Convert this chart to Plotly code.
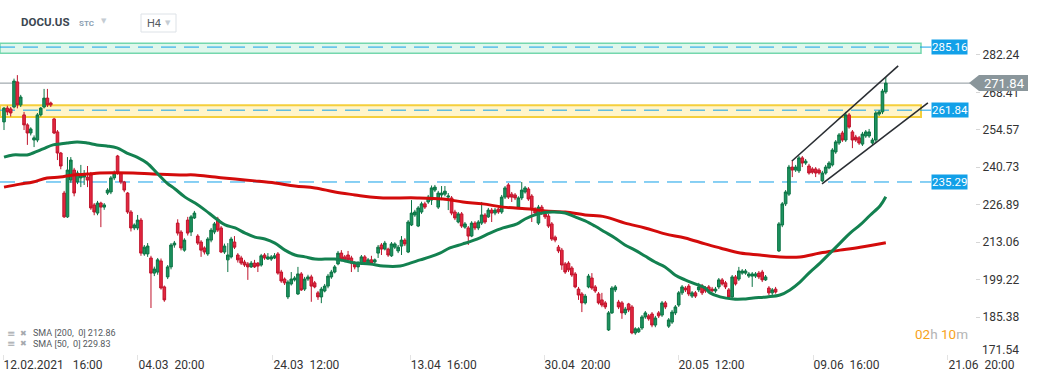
import plotly.graph_objects as go

# ---------------- data ----------------
opens = [
    257.5, 262.6, 262.3, 263.0, 272.3, 263.8, 260.1, 256.4, 253.4, 250.8,
    250.8, 260.1, 263.0, 266.3, 264.5, 258.6, 253.8, 246.0, 231.2, 222.4,
    236.0, 239.7, 235.3, 236.8, 237.1, 237.1, 237.9, 226.8, 223.8, 227.5,
    226.0, 231.2, 231.6, 236.8, 244.9, 238.6, 235.3, 231.2, 224.2, 218.3,
    218.3, 221.2, 208.7, 208.7, 207.2, 201.6, 202.0, 206.1, 196.5, 200.2,
    203.9, 212.0, 220.1, 216.8, 210.1, 221.2, 216.8, 222.0, 215.3, 213.1,
    210.9, 208.7, 213.8, 216.8, 221.6, 218.3, 209.4, 206.5, 207.6, 213.1,
    208.3, 207.2, 205.7, 205.0, 203.9, 205.3, 205.3, 204.6, 208.3, 206.8,
    206.8, 207.2, 208.7, 202.0, 199.4, 192.8, 197.6, 199.1, 193.9, 201.3,
    195.7, 199.4, 200.2, 198.0, 194.3, 192.8, 195.0, 196.8, 200.2, 202.0,
    205.0, 209.0, 207.6, 208.3, 207.2, 205.3, 203.9, 205.3, 207.6, 205.3,
    206.5, 205.7, 209.0, 212.0, 210.5, 210.5, 208.0, 211.2, 209.8, 211.6,
    213.8, 209.4, 219.4, 223.1, 219.0, 224.2, 227.2, 227.9, 228.6, 232.3,
    226.0, 230.5, 230.8, 229.7, 229.4, 224.2, 220.5, 223.5, 218.6, 218.3,
    215.3, 220.1, 218.3, 220.1, 223.1, 222.4, 224.9, 223.8, 225.3, 224.2,
    229.7, 234.2, 230.8, 230.5, 226.0, 229.4, 231.6, 232.7, 230.1, 225.3,
    220.1, 226.0, 223.5, 222.7, 219.8, 214.9, 211.2, 210.1, 205.0, 205.3,
    203.5, 201.3, 195.7, 193.9, 190.6, 196.5, 199.8, 196.5, 193.9, 191.7,
    190.6, 180.6, 186.9, 195.4, 190.9, 190.6, 186.9, 190.2, 189.1, 179.5,
    179.9, 181.3, 185.4, 185.8, 186.5, 182.4, 186.9, 186.1, 190.6, 182.0,
    183.5, 186.9, 189.8, 194.3, 196.1, 196.8, 193.1, 194.3, 195.4, 196.8,
    196.1, 196.5, 195.7, 195.0, 196.5, 199.1, 198.0, 195.4, 192.8, 200.2,
    199.4, 201.6, 201.6, 200.5, 200.5, 200.5, 201.6, 202.0, 199.1, 196.1,
    194.3, 195.7, 209.8, 219.4, 227.2, 230.8, 240.8, 239.7, 239.4, 244.2,
    242.3, 241.2, 240.1, 240.1, 239.7, 235.7, 238.6, 240.5, 241.6, 246.4,
    249.7, 253.4, 250.8, 260.1, 253.8, 251.9, 251.6, 249.3, 252.3, 252.3,
    249.7, 250.8, 260.4, 261.2, 268.6,
]
highs = [
    263.0, 263.5, 263.0, 273.5, 274.8, 267.5, 261.2, 257.0, 255.5, 252.5,
    260.8, 263.0, 269.7, 269.7, 265.0, 259.0, 254.5, 246.4, 232.0, 244.5,
    244.5, 240.5, 239.5, 241.6, 239.7, 241.2, 239.0, 227.5, 228.3, 228.0,
    227.5, 233.0, 237.5, 239.5, 245.3, 239.0, 235.7, 231.6, 224.9, 220.0,
    223.1, 222.0, 212.0, 212.7, 208.0, 204.0, 207.2, 207.0, 197.0, 204.6,
    212.7, 213.5, 221.5, 217.5, 214.5, 222.4, 223.1, 224.6, 216.0, 213.8,
    211.5, 214.9, 218.3, 220.5, 222.4, 219.0, 212.5, 212.7, 215.0, 215.3,
    209.0, 208.0, 206.5, 205.7, 206.1, 206.5, 205.7, 208.7, 209.0, 209.0,
    208.3, 209.0, 209.4, 202.8, 200.0, 199.0, 202.0, 200.5, 203.9, 202.0,
    200.2, 201.0, 201.0, 198.7, 195.0, 196.5, 197.6, 201.3, 202.8, 204.6,
    209.8, 210.1, 208.3, 209.8, 208.0, 206.0, 206.0, 208.3, 208.3, 207.2,
    208.0, 207.0, 212.0, 212.7, 213.5, 211.0, 213.1, 213.0, 212.0, 215.3,
    214.5, 221.2, 228.6, 225.0, 226.4, 228.0, 228.0, 230.5, 234.0, 234.2,
    232.0, 233.8, 233.8, 231.2, 230.1, 225.0, 224.2, 224.2, 220.5, 219.0,
    220.8, 220.8, 221.2, 227.9, 223.8, 225.7, 225.7, 225.7, 226.0, 230.5,
    233.8, 234.9, 231.6, 231.2, 230.0, 235.3, 233.8, 233.4, 230.8, 226.0,
    226.8, 226.8, 224.2, 223.5, 220.5, 215.5, 212.0, 210.9, 205.7, 206.0,
    204.2, 202.0, 196.5, 194.6, 193.9, 201.3, 201.6, 197.2, 194.6, 194.3,
    191.3, 187.6, 196.8, 197.2, 191.7, 191.3, 189.1, 190.6, 189.8, 181.6,
    181.6, 186.1, 187.6, 186.5, 187.2, 185.8, 187.6, 191.3, 191.3, 185.0,
    188.0, 189.8, 195.0, 197.2, 196.8, 197.6, 195.0, 195.0, 198.0, 197.6,
    196.8, 197.2, 196.5, 196.5, 199.8, 199.8, 198.7, 196.1, 200.9, 200.9,
    203.9, 203.1, 203.1, 202.0, 202.0, 202.0, 202.4, 202.8, 200.9, 196.8,
    196.1, 196.5, 220.5, 227.9, 232.3, 241.6, 243.4, 241.6, 244.9, 244.9,
    243.8, 242.0, 240.8, 240.8, 240.4, 239.4, 241.6, 243.0, 247.8, 250.8,
    253.4, 254.2, 261.2, 260.8, 254.5, 252.7, 252.3, 253.8, 254.5, 254.9,
    251.6, 261.5, 261.9, 269.7, 274.1,
]
lows = [
    254.5, 260.0, 259.5, 262.5, 262.5, 263.0, 254.5, 249.0, 252.5, 248.2,
    250.0, 259.5, 262.5, 263.0, 263.0, 253.0, 243.4, 240.0, 222.0, 222.0,
    235.0, 230.0, 234.5, 233.4, 234.2, 233.4, 225.0, 223.0, 223.0, 218.6,
    225.0, 230.5, 230.8, 236.0, 238.0, 234.5, 231.5, 223.5, 217.0, 217.5,
    217.5, 208.0, 208.0, 207.6, 188.7, 200.5, 201.0, 195.5, 191.0, 199.4,
    203.0, 211.0, 215.5, 210.0, 209.5, 215.5, 215.3, 221.6, 212.0, 207.6,
    208.5, 208.0, 213.0, 216.0, 216.8, 209.0, 208.7, 202.0, 207.0, 210.5,
    205.5, 204.6, 203.9, 199.1, 203.5, 203.5, 202.0, 204.0, 206.5, 206.5,
    206.1, 206.8, 201.0, 198.0, 197.2, 192.0, 197.0, 198.5, 193.5, 195.0,
    195.0, 198.7, 191.0, 196.0, 191.7, 190.5, 194.5, 196.0, 199.5, 201.5,
    204.5, 206.0, 205.7, 206.0, 202.0, 203.0, 202.0, 204.6, 205.0, 204.6,
    204.6, 205.0, 207.2, 208.3, 210.0, 207.6, 207.6, 210.5, 209.0, 208.3,
    211.6, 209.0, 219.0, 222.4, 218.6, 223.5, 225.3, 227.2, 226.8, 231.6,
    225.3, 228.6, 230.0, 224.9, 223.0, 221.2, 220.0, 218.3, 218.0, 212.0,
    214.9, 217.5, 217.5, 219.4, 219.8, 222.0, 220.5, 223.0, 223.5, 223.5,
    229.0, 229.0, 227.9, 228.6, 225.3, 228.6, 231.0, 228.3, 220.5, 223.0,
    219.4, 223.1, 221.6, 218.3, 213.5, 213.0, 209.0, 202.8, 201.3, 202.0,
    200.2, 196.0, 191.7, 187.2, 190.0, 196.0, 195.4, 194.3, 190.0, 189.0,
    188.3, 180.2, 186.5, 194.6, 188.3, 184.7, 186.1, 187.2, 179.0, 178.8,
    179.5, 180.6, 184.7, 184.0, 181.6, 181.6, 185.0, 185.4, 188.3, 181.3,
    182.8, 186.1, 189.1, 193.5, 194.6, 193.1, 192.4, 192.4, 194.6, 193.5,
    194.3, 194.3, 194.6, 194.3, 195.7, 197.0, 195.7, 192.0, 192.4, 197.0,
    198.7, 201.0, 201.0, 199.8, 196.5, 199.8, 199.4, 198.3, 198.7, 193.5,
    193.5, 194.0, 209.4, 218.6, 226.4, 230.1, 237.1, 239.0, 238.6, 240.8,
    241.6, 238.0, 238.2, 237.1, 238.0, 235.3, 238.0, 240.0, 241.0, 245.7,
    249.0, 250.1, 250.1, 255.0, 247.8, 250.1, 249.0, 248.6, 251.6, 251.6,
    249.0, 250.1, 259.7, 260.4, 267.9,
]
closes = [
    262.6, 261.2, 260.8, 272.6, 263.8, 266.7, 256.4, 253.4, 254.9, 251.6,
    260.1, 262.6, 266.3, 263.8, 263.8, 253.4, 246.0, 241.2, 222.4, 239.7,
    243.4, 231.2, 238.6, 237.9, 237.9, 236.0, 225.7, 224.2, 227.5, 226.0,
    226.8, 232.3, 236.8, 238.6, 238.6, 235.3, 232.3, 224.2, 218.3, 219.4,
    221.2, 209.0, 211.2, 211.6, 201.6, 203.1, 206.5, 196.1, 191.7, 203.9,
    212.0, 212.7, 216.4, 210.9, 213.8, 216.4, 222.4, 223.8, 212.7, 210.1,
    209.4, 214.2, 217.5, 219.8, 217.5, 209.4, 211.6, 208.3, 214.2, 211.2,
    206.5, 205.3, 204.6, 203.9, 205.3, 203.9, 204.2, 208.0, 207.2, 207.6,
    207.6, 208.0, 201.6, 198.7, 198.0, 198.3, 199.4, 199.8, 201.3, 195.4,
    199.4, 200.2, 196.8, 196.5, 192.8, 195.7, 196.8, 200.5, 202.0, 203.9,
    209.0, 206.8, 206.5, 206.5, 205.3, 203.9, 205.3, 207.6, 205.7, 206.5,
    205.3, 206.5, 211.2, 210.5, 212.7, 208.3, 212.4, 212.4, 211.2, 213.8,
    212.4, 220.5, 223.8, 224.2, 225.7, 227.2, 226.0, 229.7, 233.1, 233.4,
    231.2, 231.2, 231.9, 230.1, 223.8, 222.0, 223.5, 219.0, 219.8, 215.3,
    220.1, 218.3, 220.5, 223.1, 220.5, 224.9, 223.8, 224.9, 224.2, 229.7,
    233.1, 229.7, 229.7, 229.4, 229.4, 232.3, 233.1, 229.0, 225.0, 223.8,
    226.0, 224.6, 222.4, 219.0, 214.2, 213.8, 209.8, 204.6, 202.0, 202.8,
    200.9, 196.5, 193.5, 190.6, 193.1, 200.5, 196.1, 195.0, 190.6, 189.8,
    189.1, 186.9, 196.1, 196.5, 189.1, 186.9, 188.3, 188.0, 179.5, 181.0,
    181.0, 185.4, 186.9, 184.7, 182.4, 185.0, 185.8, 190.6, 189.1, 184.3,
    187.2, 189.1, 194.3, 196.5, 195.4, 193.9, 194.3, 193.1, 196.5, 194.3,
    195.0, 195.0, 195.0, 195.7, 199.1, 197.6, 196.5, 192.8, 200.2, 197.6,
    202.4, 202.4, 202.4, 201.3, 201.3, 201.3, 200.2, 199.1, 200.2, 194.3,
    195.4, 194.6, 219.8, 227.2, 231.6, 240.8, 239.7, 240.8, 244.2, 242.3,
    243.0, 238.6, 238.9, 238.6, 238.6, 238.6, 240.8, 242.3, 247.1, 250.1,
    252.7, 250.8, 260.1, 255.6, 250.8, 250.8, 249.7, 253.0, 253.8, 253.8,
    250.8, 260.8, 261.2, 268.9, 271.84,
]

# SMA curves sampled along the picture (candle index, value)
sma50_idx = [
    0, 2.7, 6.9, 8.7, 11.7, 14.7, 16.8, 18.9, 21.9, 24.9,
    27.8, 30.8, 33.8, 36.8, 39.8, 42.8, 45.8, 48.8, 51.2, 54.2,
    57.2, 60.2, 63.2, 66.2, 69.2, 72.2, 75.1, 78.1, 81.1, 84.1,
    87.1, 90.1, 93.1, 96.1, 99.1, 102.1, 105.1, 109.6, 113.5, 118.6,
    121.6, 124.6, 127.5, 130.5, 133.5, 137.4, 141.6, 145.5, 149.4, 153.6,
    156.0, 159.9, 164.1, 168.0, 171.0, 174.0, 176.9, 179.9, 182.9, 185.9,
    188.9, 191.9, 194.9, 197.9, 200.9, 203.9, 206.9, 209.9, 211.4, 214.4,
    218.3, 221.3, 224.3, 228.4, 232.3, 235.3, 238.3, 241.3, 244.3, 247.3,
    250.3, 253.3, 256.3, 259.3, 262.3, 264,
]
sma50_val = [
    244.5, 245.3, 245.3, 246.0, 247.5, 249.0, 249.3, 249.7, 250.1, 249.7,
    249.0, 248.6, 247.9, 246.0, 244.5, 242.3, 238.6, 234.9, 232.7, 229.7,
    227.5, 224.9, 222.0, 219.4, 218.3, 216.4, 214.9, 214.2, 212.7, 210.1,
    208.3, 207.6, 206.8, 206.8, 206.8, 206.1, 205.3, 205.0, 204.2, 204.2,
    205.3, 206.5, 207.6, 209.0, 210.9, 212.4, 214.2, 216.4, 218.3, 219.8,
    221.6, 223.5, 224.2, 223.8, 222.4, 220.9, 219.0, 216.8, 214.6, 212.0,
    210.1, 207.9, 205.7, 203.9, 200.9, 199.1, 197.6, 196.1, 194.3, 192.8,
    192.0, 192.0, 192.4, 192.8, 193.5, 195.4, 198.3, 202.0, 205.3, 209.0,
    212.7, 216.4, 219.4, 223.0, 226.5, 229.83,
]
sma200_idx = [
    0, 4.8, 8.7, 12.9, 16.8, 20.7, 24.9, 28.7, 38.6, 44.6,
    52.7, 57.2, 63.2, 69.2, 75.1, 81.1, 87.1, 93.1, 99.1, 105.1,
    109.6, 113.5, 123.7, 131.4, 137.4, 143.4, 149.4, 157.5, 162.0, 168.0,
    174.0, 179.9, 185.9, 191.9, 197.9, 203.9, 209.9, 214.4, 220.4, 226.3,
    232.3, 238.3, 244.3, 250.3, 256.3, 264,
]
sma200_val = [
    233.4, 234.5, 235.3, 236.8, 237.1, 237.9, 238.2, 238.6, 238.6, 238.2,
    237.9, 237.9, 237.1, 236.4, 235.7, 234.9, 233.8, 233.1, 231.6, 230.5,
    229.7, 229.4, 229.4, 229.0, 227.9, 227.2, 226.0, 225.3, 224.6, 224.2,
    223.1, 222.4, 220.1, 218.3, 216.1, 214.6, 212.4, 210.9, 209.0, 208.3,
    207.6, 207.6, 209.0, 210.1, 211.2, 212.86,
]

# drawn channel (trend lines)
channel_upper_idx = [235.9, 267.7]
channel_upper_val = [243.05, 278.2]
channel_lower_idx = [244.9, 276.6]
channel_lower_val = [234.6, 264.5]

# levels & zones
level_values = [285.16, 261.84, 235.29]
zone_green = [282.9, 286.6]
zone_yellow = [259.3, 263.7]
last_price = 271.84
sma200_last = 212.86
sma50_last = 229.83

x_tick_idx = [-0.3, 40.1, 80.5, 121.6, 161.7, 201.8, 242.2, 282.6]
x_tick_text = ["12.02.2021\u00a0\u00a0\u00a016:00", "04.03\u00a0\u00a020:00", "24.03\u00a0\u00a012:00",
               "13.04\u00a0\u00a016:00", "30.04\u00a0\u00a020:00", "20.05\u00a0\u00a012:00",
               "09.06\u00a0\u00a016:00", "21.06\u00a0\u00a020:00"]
y_tick_vals = [185.38, 199.22, 213.06, 226.89, 240.73, 254.57, 268.41, 282.24]
y_bottom_label = 171.54

# ---------------- layout geometry ----------------
W, H = 1041, 380
ML, MR, MT, MB = 0, 66, 38, 26
PW = W - ML - MR
PH = H - MT - MB
Y_MIN, Y_MAX = 171.70, 288.52
X_MIN, X_MAX = -1.2, 290.7
FONT = "Roboto, Arial, sans-serif"
BLUE = "#12a0e8"


def px(xp):
    return (xp - ML) / PW


def py(yp):
    return (H - MB - yp) / PH


def pp(price):
    return (price - Y_MIN) / (Y_MAX - Y_MIN)


idx = list(range(len(closes)))

fig = go.Figure()
fig.add_trace(go.Candlestick(
    x=idx, open=opens, high=highs, low=lows, close=closes,
    increasing=dict(line=dict(color="#0c7444", width=1), fillcolor="#1c9360"),
    decreasing=dict(line=dict(color="#c0142c", width=1), fillcolor="#e4273f"),
    whiskerwidth=0, hoverinfo="skip", showlegend=False,
))
fig.add_trace(go.Scatter(x=sma200_idx, y=sma200_val, mode="lines",
                         line=dict(color="#d30b0b", width=3, shape="spline"),
                         hoverinfo="skip", showlegend=False))
fig.add_trace(go.Scatter(x=sma50_idx, y=sma50_val, mode="lines",
                         line=dict(color="#138150", width=3, shape="spline"),
                         hoverinfo="skip", showlegend=False))
fig.add_trace(go.Scatter(x=channel_upper_idx, y=channel_upper_val, mode="lines",
                         line=dict(color="#2a2e33", width=1.6), hoverinfo="skip", showlegend=False))
fig.add_trace(go.Scatter(x=channel_lower_idx, y=channel_lower_val, mode="lines",
                         line=dict(color="#2a2e33", width=1.6), hoverinfo="skip", showlegend=False))

shapes = []
# zones
shapes.append(dict(type="rect", xref="paper", yref="y", x0=0, x1=px(921), y0=zone_green[0], y1=zone_green[1],
                   fillcolor="rgba(185,238,212,0.45)", line=dict(color="#74d7ad", width=1.5), layer="below"))
shapes.append(dict(type="rect", xref="paper", yref="y", x0=0, x1=px(921), y0=zone_yellow[0], y1=zone_yellow[1],
                   fillcolor="rgba(255,236,150,0.5)", line=dict(color="#f5cf3c", width=2), layer="below"))
# level dashed lines
for v in level_values:
    shapes.append(dict(type="line", xref="paper", yref="y", x0=0, x1=px(921), y0=v, y1=v,
                       line=dict(color=BLUE, width=1, dash="15px,8px"), layer="below"))
    shapes.append(dict(type="line", xref="paper", yref="y", x0=px(921), x1=px(931), y0=v, y1=v,
                       line=dict(color=BLUE, width=1), layer="below"))
# last price line
shapes.append(dict(type="line", xref="paper", yref="y", x0=0, x1=px(970), y0=last_price, y1=last_price,
                   line=dict(color="#8b969b", width=1), layer="below"))
# last price box with arrow
yc = pp(last_price)
hh = 8 / PH
shapes.append(dict(type="path", xref="paper", yref="paper",
                   path=f"M {px(969)},{yc} L {px(979)},{yc + hh} L {px(1028)},{yc + hh} "
                        f"L {px(1028)},{yc - hh} L {px(979)},{yc - hh} Z",
                   fillcolor="#8a969b", line=dict(width=0), layer="above"))
# H4 box
shapes.append(dict(type="rect", xref="paper", yref="paper", x0=px(141), x1=px(176), y0=py(32), y1=py(14),
                   line=dict(color="#dde2e7", width=1), fillcolor="white", layer="above"))

annotations = []
for v in level_values:
    annotations.append(dict(xref="paper", yref="y", x=px(931), y=v, xanchor="left", yanchor="middle",
                            text=f"{v:.2f}", showarrow=False, bgcolor=BLUE, borderpad=0,
                            font=dict(family=FONT, size=11.5, color="white")))
annotations.append(dict(xref="paper", yref="paper", x=px(1004), y=yc, xanchor="center", yanchor="middle",
                        text=f"{last_price:.2f}", showarrow=False,
                        font=dict(family=FONT, size=13, color="white")))
annotations.append(dict(xref="paper", yref="paper", x=px(980), y=py(350), xanchor="left", yanchor="middle",
                        text=f"{y_bottom_label:.2f}", showarrow=False,
                        font=dict(family=FONT, size=12, color="#333333")))
# header
annotations.append(dict(xref="paper", yref="paper", x=px(19), y=py(22.5), xanchor="left", yanchor="middle",
                        text="<b>DOCU.US</b>", showarrow=False,
                        font=dict(family=FONT, size=11.5, color="#3b4651")))
annotations.append(dict(xref="paper", yref="paper", x=px(77), y=py(24), xanchor="left", yanchor="middle",
                        text="<b>STC</b>", showarrow=False,
                        font=dict(family=FONT, size=8, color="#8c9fb3")))
annotations.append(dict(xref="paper", yref="paper", x=px(103.5), y=py(21.5), xanchor="center", yanchor="middle",
                        text="▼", showarrow=False, font=dict(family="DejaVu Sans", size=7, color="#c5ccd3")))
annotations.append(dict(xref="paper", yref="paper", x=px(145), y=py(23.5), xanchor="left", yanchor="middle",
                        text="H4", showarrow=False, font=dict(family=FONT, size=11, color="#555b62")))
annotations.append(dict(xref="paper", yref="paper", x=px(168), y=py(23.5), xanchor="center", yanchor="middle",
                        text="▼", showarrow=False, font=dict(family="DejaVu Sans", size=7, color="#c5ccd3")))
# indicator legend
for yy, lbl in [(333, f"SMA [200,  0] {sma200_last:.2f}"), (343.5, f"SMA [50,  0] {sma50_last:.2f}")]:
    annotations.append(dict(xref="paper", yref="paper", x=px(5), y=py(yy), xanchor="left", yanchor="middle",
                            text="≡", showarrow=False, font=dict(family="DejaVu Sans", size=10, color="#a5a9ad")))
    annotations.append(dict(xref="paper", yref="paper", x=px(18), y=py(yy), xanchor="left", yanchor="middle",
                            text="✖", showarrow=False, font=dict(family="DejaVu Sans", size=8, color="#a5a9ad")))
    annotations.append(dict(xref="paper", yref="paper", x=px(31), y=py(yy), xanchor="left", yanchor="middle",
                            text=lbl.replace("  ", "\u00a0 "), showarrow=False,
                            font=dict(family=FONT, size=9, color="#555a60")))
# timer
annotations.append(dict(xref="paper", yref="paper", x=px(913), y=py(334), xanchor="left", yanchor="middle",
                        text="<span style='color:#f7a21b'>02</span>h <span style='color:#f7a21b'>10</span>m",
                        showarrow=False, font=dict(family=FONT, size=13.5, color="#b4b4b4")))

fig.update_layout(
    width=W, height=H,
    margin=dict(l=ML, r=MR, t=MT, b=MB),
    paper_bgcolor="white", plot_bgcolor="white",
    showlegend=False,
    boxgap=0.22, boxgroupgap=0.0,
    shapes=shapes, annotations=annotations,
    font=dict(family=FONT, size=12, color="#333333"),
    xaxis=dict(range=[X_MIN, X_MAX], tickvals=x_tick_idx, ticktext=x_tick_text,
               ticks="outside", ticklen=5, tickcolor="#e3e3e3", ticklabelposition="outside right",
               tickfont=dict(family=FONT, size=12, color="#333333"),
               showgrid=False, zeroline=False, showline=False,
               rangeslider=dict(visible=False), fixedrange=True),
    yaxis=dict(range=[Y_MIN, Y_MAX], side="right", tickvals=y_tick_vals,
               ticktext=[f"{v:.2f}" for v in y_tick_vals],
               ticks="outside", ticklen=4, tickcolor="#d6d6d6",
               tickfont=dict(family=FONT, size=12, color="#333333"),
               showgrid=False, zeroline=False, showline=False, fixedrange=True),
)

fig.write_html("out.html", config={"displayModeBar": False},
               post_script="document.body.style.margin='0';document.body.style.padding='0';")
